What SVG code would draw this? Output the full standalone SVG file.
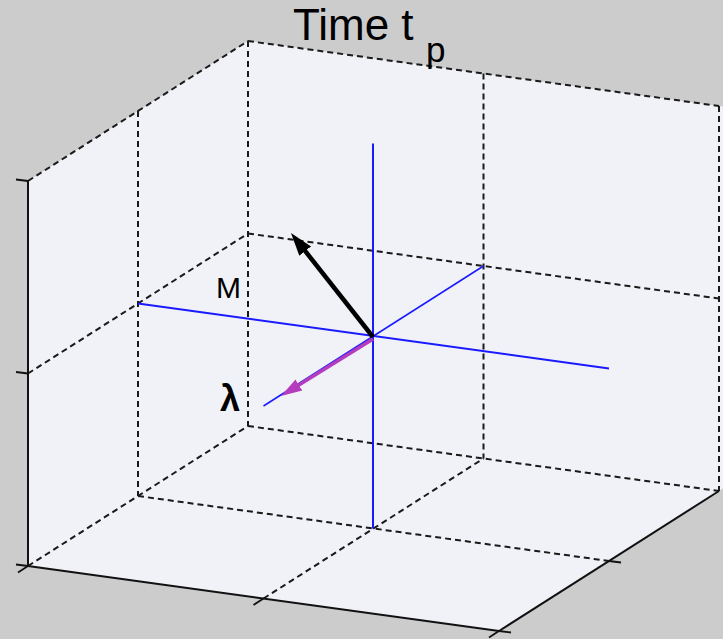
<svg xmlns="http://www.w3.org/2000/svg" width="723" height="639" viewBox="0 0 723 639">
  <style>
    .grid { fill: none; stroke: #1a1a1a; stroke-width: 2; stroke-dasharray: 6 4; }
    .axis { fill: none; stroke: #111; stroke-width: 2; }
    .tick { fill: none; stroke: #111; stroke-width: 1.8; }
    .blue { fill: none; stroke: #1a1aff; stroke-width: 2; }
    .blue-thin { fill: none; stroke: #1a1aff; stroke-width: 1.5; }
    .lbl { font-family: "Liberation Sans", Arial, sans-serif; fill: #000; }
  </style>
  <defs>
    <marker id="headBlack" markerUnits="userSpaceOnUse" markerWidth="26" markerHeight="18" viewBox="0 -9 26 18" refX="11" refY="0" orient="auto">
      <path d="M0,-7.5 L23,0 L0,7.5 z" fill="#000"/>
    </marker>
    <marker id="headMag" markerUnits="userSpaceOnUse" markerWidth="24" markerHeight="16" viewBox="0 -8 24 16" refX="10" refY="0" orient="auto">
      <path d="M0,-6.5 L21,0 L0,6.5 z" fill="#b43cbe"/>
    </marker>
  </defs>

  <rect id="background" x="0" y="0" width="723" height="639" fill="#cccccc"/>
  <polygon id="axes-fill" points="28,181 248,41 719,106 723,106.5 723,488.5 719,491 499,631 28,566" fill="#f1f2f8"/>

  <g id="grid">
    <line class="grid" x1="28" y1="181" x2="248" y2="41"/>
    <line class="grid" x1="248" y1="41" x2="719" y2="106"/>
    <line class="grid" x1="719" y1="106" x2="719" y2="491"/>
    <line class="grid" x1="248" y1="41" x2="248" y2="426"/>
    <line class="grid" x1="28" y1="566" x2="248" y2="426"/>
    <line class="grid" x1="248" y1="426" x2="719" y2="491"/>
    <line class="grid" x1="138" y1="111" x2="138" y2="496"/>
    <line class="grid" x1="28" y1="373.5" x2="248" y2="233.5"/>
    <line class="grid" x1="483.5" y1="73.5" x2="483.5" y2="458.5"/>
    <line class="grid" x1="248" y1="233.5" x2="719" y2="298.5"/>
    <line class="grid" x1="138" y1="496" x2="609" y2="561"/>
    <line class="grid" x1="263.5" y1="598.5" x2="483.5" y2="458.5"/>
  </g>

  <g id="axes-lines">
    <line class="axis" x1="28" y1="181" x2="28" y2="566"/>
    <line class="axis" x1="28" y1="566" x2="499" y2="631"/>
    <line class="axis" x1="499" y1="631" x2="719" y2="491"/>
    <line class="tick" x1="28" y1="181" x2="16" y2="179.5"/>
    <line class="tick" x1="28" y1="373.5" x2="16" y2="372"/>
    <line class="tick" x1="28" y1="566" x2="16" y2="564.5"/>
    <line class="tick" x1="28" y1="566" x2="18" y2="572.5"/>
    <line class="tick" x1="263.5" y1="598.5" x2="253.5" y2="605"/>
    <line class="tick" x1="499" y1="631" x2="489" y2="637.5"/>
    <line class="tick" x1="499" y1="631" x2="511" y2="632.5"/>
    <line class="tick" x1="609" y1="561" x2="621" y2="562.5"/>
  </g>

  <g id="center-axes">
    <line class="blue" x1="373" y1="143.5" x2="373" y2="528.5"/>
    <line class="blue" x1="138" y1="303.5" x2="609" y2="368.5"/>
    <line class="blue-thin" x1="263.5" y1="406" x2="483.5" y2="266"/>
  </g>

  <g id="connectors">
    <line id="arrow-black" x1="373" y1="337" x2="298.4" y2="242.4" stroke="#000" stroke-width="4.5" marker-end="url(#headBlack)"/>
    <line id="arrow-magenta" x1="373" y1="339" x2="290.4" y2="390.2" stroke="#b43cbe" stroke-width="3.6" marker-end="url(#headMag)"/>
  </g>

  <g id="title">
    <text class="lbl" x="293" y="40" font-size="44">Time t</text>
    <text class="lbl" x="426" y="62" font-size="35">p</text>
  </g>
  <g id="label-M">
    <text class="lbl" x="216" y="298" font-size="30">M</text>
  </g>
  <g id="label-lambda">
    <text class="lbl" x="220" y="411" font-size="36" font-weight="bold">λ</text>
  </g>
</svg>
